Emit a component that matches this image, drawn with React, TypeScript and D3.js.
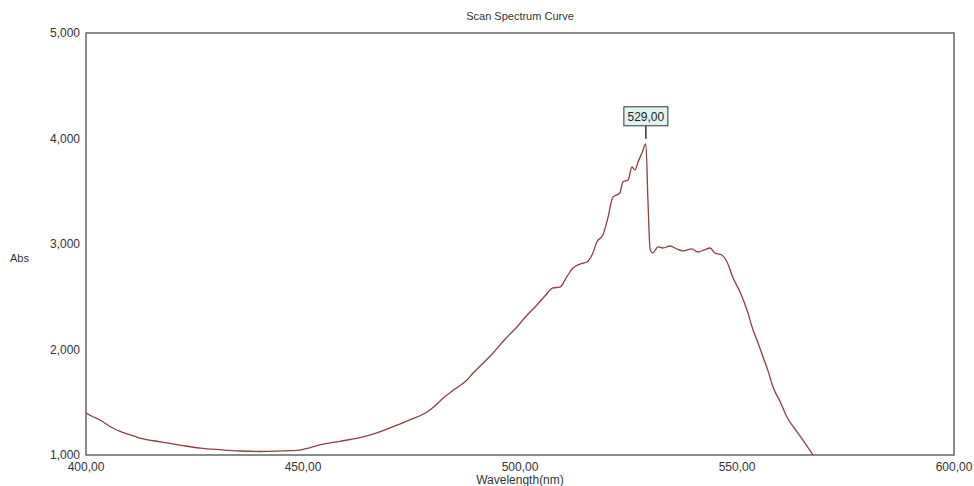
import React from "react";
import * as d3 from "d3";

const wavelengths = [400, 401.5, 403.2, 405, 407.1, 409.5, 412.4, 415.5, 418.7, 422.5, 426.3, 431, 435.5, 440, 444.0, 447, 449.3, 451.5, 453.9, 458.5, 463.8, 468, 471.7, 475, 478.6, 480.5, 482.3, 485, 487.8, 489.2, 491.5, 493.8, 496.5, 499.3, 501.5, 503.9, 505.8, 507.6, 509.2, 510.8, 512.2, 513.8, 515.4, 516.8, 517.7, 519.1, 520.3, 521.4, 523.0, 523.7, 524.9, 525.8, 526.5, 527.2, 528.1, 529.0, 529.5, 530.0, 530.6, 531.8, 532.9, 534.6, 536, 537.6, 539.6, 541.0, 542.5, 543.8, 544.9, 546.5, 547.7, 549.1, 550.7, 552.3, 553.7, 554.6, 556.0, 557.2, 558.3, 560, 561.5, 563.3, 565.2, 567.5];
const absorbance = [1398, 1365, 1332, 1285, 1237, 1200, 1161, 1135, 1114, 1088, 1066, 1050, 1038, 1033, 1036, 1041, 1047, 1068, 1095, 1130, 1171, 1225, 1284, 1340, 1408, 1470, 1540, 1625, 1711, 1777, 1870, 1967, 2095, 2213, 2320, 2422, 2510, 2583, 2592, 2690, 2773, 2810, 2829, 2915, 3019, 3085, 3256, 3445, 3483, 3588, 3607, 3730, 3701, 3777, 3863, 3950, 3390, 2943, 2915, 2972, 2962, 2981, 2955, 2934, 2953, 2924, 2945, 2962, 2915, 2896, 2829, 2678, 2545, 2374, 2185, 2090, 1929, 1790, 1645, 1500, 1360, 1250, 1142, 1000];
const xTicks = [400, 450, 500, 550, 600];
const yTicks = [1000, 2000, 3000, 4000, 5000];
const peakLabel = "529,00";
const title = "Scan Spectrum Curve";
const xTitle = "Wavelength(nm)";
const yTitle = "Abs";

const W = 974, H = 486;
const left = 86, right = 954, top = 33, bottom = 455;
const font = "'Liberation Sans', Arial, sans-serif";

export default function App() {
  const x = d3.scaleLinear().domain([400, 600]).range([left, right]);
  const y = d3.scaleLinear().domain([1000, 5000]).range([bottom, top]);
  const pts = wavelengths.map((w, i) => [w, absorbance[i]] as [number, number]);
  const line = d3.line<[number, number]>().x(d => x(d[0])).y(d => y(d[1])).curve(d3.curveMonotoneX);
  const peakIdx = absorbance.indexOf(d3.max(absorbance) as number);
  const px = x(wavelengths[peakIdx]);
  const py = y(absorbance[peakIdx]);
  const fmtX = (v: number) => v.toFixed(2).replace(".", ",");
  const fmtY = d3.format(",");
  return (
    <svg width={W} height={H} style={{ position: "absolute", left: 0, top: 0, background: "#fff" }}>
      <defs>
        <clipPath id="plot">
          <rect x={left} y={top} width={right - left} height={bottom - top} />
        </clipPath>
      </defs>
      <text x={(left + right) / 2} y={20} textAnchor="middle" fontFamily={font} fontSize={11} fill="#333">{title}</text>
      <rect x={left} y={top} width={right - left} height={bottom - top} fill="none" stroke="#666" strokeWidth={1.5} />
      {yTicks.map(t => (
        <text key={t} x={left - 6} y={y(t) + 4} textAnchor="end" fontFamily={font} fontSize={12} fill="#333">{fmtY(t)}</text>
      ))}
      {xTicks.map(t => (
        <text key={t} x={x(t)} y={bottom + 16} textAnchor="middle" fontFamily={font} fontSize={12} fill="#333">{fmtX(t)}</text>
      ))}
      <text x={(left + right) / 2} y={bottom + 29} textAnchor="middle" fontFamily={font} fontSize={12} fill="#333">{xTitle}</text>
      <text x={10} y={262} fontFamily={font} fontSize={11} fill="#333">{yTitle}</text>
      <path d={line(pts) || ""} fill="none" stroke="#8c4040" strokeWidth={1.3} clipPath="url(#plot)" />
      <line x1={px} x2={px} y1={py - 20} y2={py - 5} stroke="#333" strokeWidth={1.5} />
      <rect x={px - 22} y={py - 37} width={44} height={19} fill="#e2f4f2" stroke="#333" strokeWidth={1} />
      <text x={px} y={py - 23} textAnchor="middle" fontFamily={font} fontSize={12} fill="#222">{peakLabel}</text>
    </svg>
  );
}
